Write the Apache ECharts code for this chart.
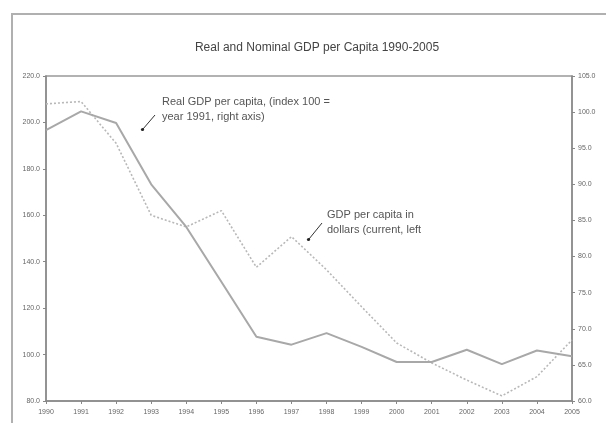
<!DOCTYPE html>
<html>
<head>
<meta charset="utf-8">
<script src="https://cdn.jsdelivr.net/npm/echarts@6/dist/echarts.min.js"></script>
<style>html,body{margin:0;padding:0;background:#fff}#c{width:606px;height:423px}</style>
</head>
<body>
<div id="c"></div>
<script>
const years = ['1990','1991','1992','1993','1994','1995','1996','1997','1998','1999','2000','2001','2002','2003','2004','2005'];
const nominalGdp = [208, 209, 191, 160, 155, 162, 137.6, 150.8, 136.5, 120.6, 105, 96.4, 89, 82.2, 90.5, 106.3];
const realGdpIndex = [97.5, 100.1, 98.5, 90, 84.1, 76.5, 68.9, 67.8, 69.4, 67.5, 65.4, 65.4, 67.1, 65.1, 67.0, 66.2];
const leftTicks = {min: 80, max: 220, interval: 20};
const rightTicks = {min: 60, max: 105, interval: 5};

const chart = echarts.init(document.getElementById('c'));
const font = 'Liberation Sans, Arial, sans-serif';
chart.setOption({
  animation: false,
  backgroundColor: '#fff',
  title: {
    text: 'Real and Nominal GDP per Capita 1990-2005',
    left: 312, top: 37, textAlign: 'center',
    textStyle: {fontFamily: font, fontSize: 12, fontWeight: 'normal', color: '#444'}
  },
  grid: {left: 46, right: 34, top: 76, bottom: 22, show: true, borderColor: '#999', borderWidth: 1.5},
  xAxis: {
    type: 'category', data: years, boundaryGap: false,
    axisLine: {lineStyle: {color: '#888', width: 1.5}},
    axisTick: {show: true, length: 3, lineStyle: {color: '#888'}},
    axisLabel: {fontFamily: font, fontSize: 7, color: '#666', margin: 8, interval: 0}
  },
  yAxis: [
    {
      type: 'value', position: 'left', min: leftTicks.min, max: leftTicks.max, interval: leftTicks.interval,
      splitLine: {show: false},
      axisLine: {show: true, lineStyle: {color: '#888', width: 1.5}},
      axisTick: {show: true, length: 3, lineStyle: {color: '#888'}},
      axisLabel: {fontFamily: font, fontSize: 7, color: '#666', margin: 6, formatter: v => v.toFixed(1)}
    },
    {
      type: 'value', position: 'right', min: rightTicks.min, max: rightTicks.max, interval: rightTicks.interval,
      splitLine: {show: false},
      axisLine: {show: true, lineStyle: {color: '#888', width: 1.5}},
      axisTick: {show: true, length: 3, lineStyle: {color: '#888'}},
      axisLabel: {fontFamily: font, fontSize: 7, color: '#666', margin: 6, formatter: v => v.toFixed(1)}
    }
  ],
  series: [
    {
      name: 'GDP per capita in dollars (current, left)', type: 'line', yAxisIndex: 0,
      data: nominalGdp, showSymbol: false,
      lineStyle: {color: '#b8b8b8', width: 1.6, type: [2, 2]}
    },
    {
      name: 'Real GDP per capita (index 100 = year 1991, right axis)', type: 'line', yAxisIndex: 1,
      data: realGdpIndex, showSymbol: false,
      lineStyle: {color: '#a8a8a8', width: 2}
    }
  ],
  graphic: [
    {type: 'rect', shape: {x: 12, y: 14, width: 700, height: 500}, style: {fill: 'none', stroke: '#b0b0b0', lineWidth: 2}, silent: true},
    {type: 'text', left: 162, top: 94, style: {text: 'Real GDP per capita, (index 100 =\nyear 1991, right axis)', font: '11px ' + font, fill: '#555', lineHeight: 15}},
    {type: 'line', shape: {x1: 155, y1: 115, x2: 143, y2: 129}, style: {stroke: '#333', lineWidth: 1}},
    {type: 'circle', shape: {cx: 142.5, cy: 129.5, r: 1.6}, style: {fill: '#222'}},
    {type: 'text', left: 327, top: 207, style: {text: 'GDP per capita in\ndollars (current, left', font: '11px ' + font, fill: '#555', lineHeight: 15}},
    {type: 'line', shape: {x1: 322, y1: 223, x2: 309, y2: 239}, style: {stroke: '#333', lineWidth: 1}},
    {type: 'circle', shape: {cx: 308.5, cy: 239.5, r: 1.6}, style: {fill: '#222'}}
  ]
});
</script>
</body>
</html>
